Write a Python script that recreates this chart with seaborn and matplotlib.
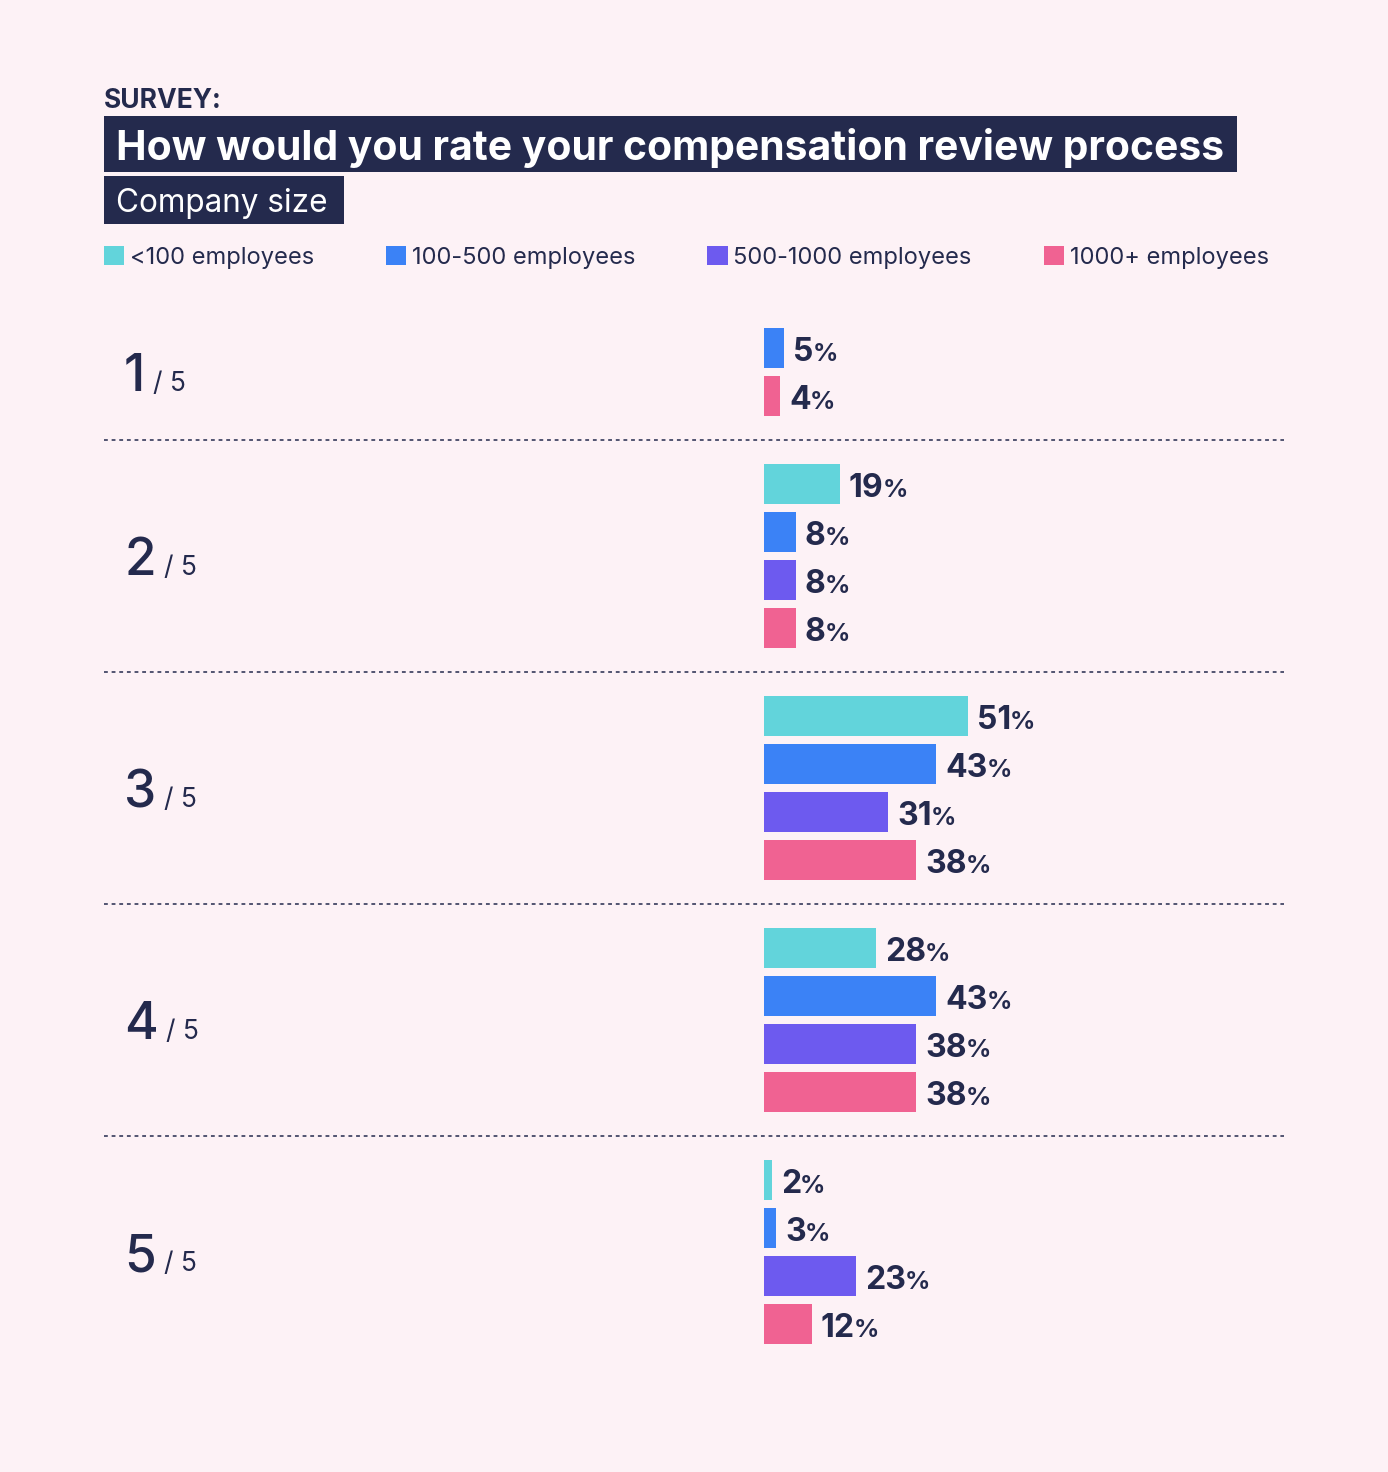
import numpy as np
import pandas as pd
import matplotlib
matplotlib.use("Agg")
import matplotlib.pyplot as plt
import matplotlib.transforms as mtransforms
from matplotlib.patches import Rectangle, Patch
import seaborn as sns

# data
ratings = ["1", "2", "3", "4", "5"]
sizes = ["<100 employees", "100-500 employees", "500-1000 employees", "1000+ employees"]
lt_100 = [np.nan, 19, 51, 28, 2]
s_100_500 = [5, 8, 43, 43, 3]
s_500_1000 = [np.nan, 8, 31, 38, 23]
s_1000_plus = [4, 8, 38, 38, 12]
colors = ["#62D4DB", "#3B82F6", "#6D5AEF", "#F06292"]

BG = "#FDF2F6"
NAVY = "#242A4D"
W, H = 1388, 1472

sns.set_theme(style="white")
plt.rcParams["font.family"] = ["Inter", "DejaVu Sans"]

# long table, one row per drawn bar, top to bottom
rows = []
for i, r in enumerate(ratings):
    for s, vals in zip(sizes, [lt_100, s_100_500, s_500_1000, s_1000_plus]):
        if not np.isnan(vals[i]):
            rows.append({"rating": r, "size": s, "pct": vals[i]})
df = pd.DataFrame(rows)

# vertical layout in pixels: 48 px pitch inside a group, 88 px between groups
ypos = []
y = 348
prev = None
for r in df["rating"]:
    if prev is not None:
        y += 48 if r == prev else 88
    ypos.append(y)
    prev = r
df["y"] = ypos

fig = plt.figure(figsize=(W / 100, H / 100), dpi=100, facecolor=BG)
ax = fig.add_axes([0, 0, 1, 1])
ax.set_facecolor(BG)

sns.barplot(data=df, x="pct", y="y", hue="size", hue_order=sizes,
            palette=dict(zip(sizes, colors)), orient="h", native_scale=True,
            dodge=False, width=40 / 48, errorbar=None, legend=False,
            saturation=1, linewidth=0, ax=ax)
ax.set_xlim(-764 / 4, (W - 764) / 4)
ax.set_ylim(H, 0)
ax.axis("off")

# top-left pixel coordinates for the decorations
topleft = mtransforms.Affine2D().scale(1, -1).translate(0, H)
fig.canvas.draw()
renderer = fig.canvas.get_renderer()

# dotted separators and rating labels
groups = df.groupby("rating", sort=False)["y"]
for i, (r, ys) in enumerate(groups):
    if i < len(ratings) - 1:
        ax.axhline(ys.max() + 44, xmin=104 / W, xmax=1284 / W, color=NAVY,
                   lw=1.1, ls=(0, (2.5, 2.5)))
    center = (ys.min() + ys.max()) / 2
    t = fig.text(124, center + 19, r, fontsize=37, fontweight="medium",
                 color=NAVY, va="baseline", ha="left", transform=topleft)
    bb = t.get_window_extent(renderer)
    fig.text(bb.x1 + 8, center + 19, "/ 5", fontsize=19, color=NAVY,
             va="baseline", ha="left", transform=topleft)

# value labels
for _, row in df.iterrows():
    t = ax.annotate(f"{row['pct']:.0f}", xy=(row["pct"], row["y"]),
                    xytext=(9, -13), textcoords="offset pixels",
                    fontsize=23, fontweight="bold", color=NAVY,
                    va="baseline", ha="left")
    bb = t.get_window_extent(renderer)
    fig.text(bb.x1 - 1, row["y"] + 13, "%", fontsize=18, fontweight="bold",
             color=NAVY, va="baseline", ha="left", transform=topleft)

# header
fig.text(104, 107.5, "SURVEY:", fontsize=19, fontweight="bold", color=NAVY,
         va="baseline", ha="left", transform=topleft)
t = fig.text(116, 160.5, "How would you rate your compensation review process",
             fontsize=29.4, fontweight="bold", color="white", va="baseline",
             ha="left", transform=topleft, zorder=5)
bb = t.get_window_extent(renderer)
fig.add_artist(Rectangle((104, 116), bb.x1 + 13 - 104, 56, facecolor=NAVY,
                         edgecolor="none", transform=topleft, zorder=4))
t = fig.text(116, 212, "Company size", fontsize=22.7, color="white",
             va="baseline", ha="left", transform=topleft, zorder=5)
bb = t.get_window_extent(renderer)
fig.add_artist(Rectangle((104, 176), bb.x1 + 16 - 104, 48, facecolor=NAVY,
                         edgecolor="none", transform=topleft, zorder=4))

# legend
handles = [Patch(facecolor=c, edgecolor="none", label=s) for s, c in zip(sizes, colors)]
fig.legend(handles=handles, loc="upper left", bbox_to_anchor=(104 / W, 1 - 246 / H),
           ncol=4, frameon=False, fontsize=17, labelcolor=NAVY,
           handlelength=0.85, handleheight=0.85, handletextpad=0.25,
           columnspacing=3.05, borderaxespad=0, borderpad=0)

fig.savefig("out.png", dpi=100, facecolor=BG)
plt.close("all")
